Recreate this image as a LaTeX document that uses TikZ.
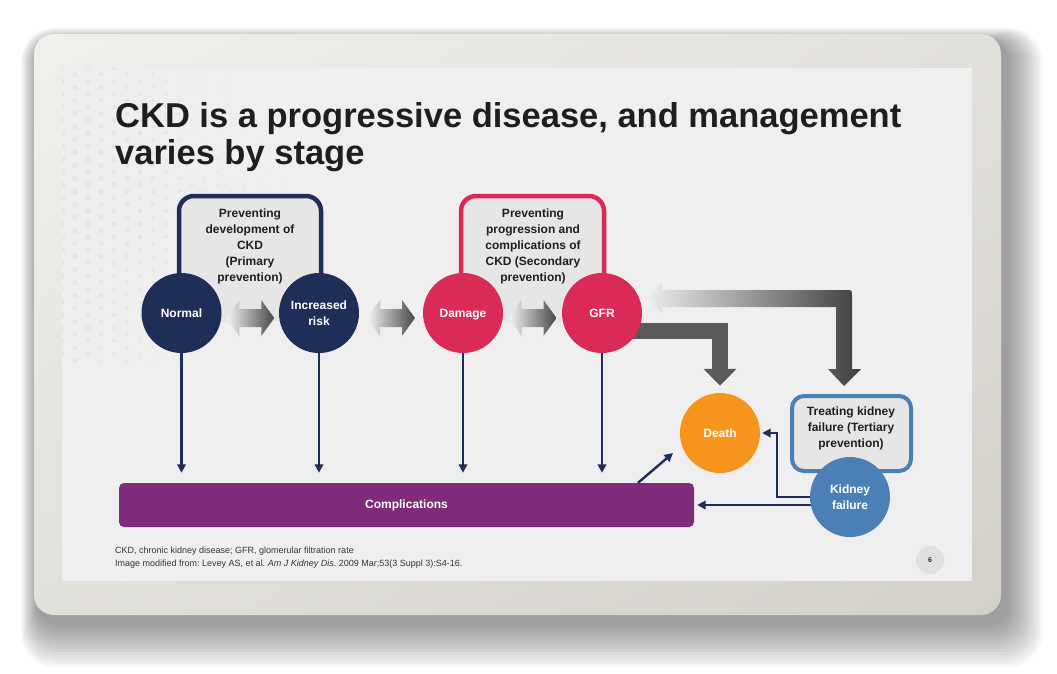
\documentclass[tikz,border=0pt]{standalone}
\usepackage{fontspec}
\setmainfont{Liberation Sans}
\usetikzlibrary{arrows.meta,calc,shadings}
\definecolor{navy}{HTML}{1F2D59}
\definecolor{crimson}{HTML}{D92B56}
\definecolor{orng}{HTML}{F7941D}
\definecolor{kblue}{HTML}{4A80B5}
\definecolor{purp}{HTML}{7F2B7A}
\definecolor{slidebg}{HTML}{EFEFEF}
\definecolor{boxfill}{HTML}{E6E6E6}
\definecolor{darkarr}{HTML}{5A5A5A}
\definecolor{ink}{HTML}{1E1E1E}
\definecolor{framelight}{HTML}{F2F0EC}
\definecolor{framedark}{HTML}{D3D0CA}
\definecolor{framemid}{HTML}{E2E0DB}
\definecolor{dotc}{HTML}{E6E6E6}
\pgfdeclarelayer{bg}
\pgfdeclarelayer{mid}
\pgfsetlayers{bg,mid,main}
\tikzset{
  stage/.style={circle, minimum size=80pt, inner sep=0pt, text=white,
    font=\fontsize{12}{16.5}\selectfont\bfseries, align=center},
  ptext/.style={font=\fontsize{12}{16}\selectfont\bfseries, align=center, text=ink, inner sep=0pt},
  navyarr/.style={draw=navy, line width=2.4pt, -{Triangle[width=8.5pt,length=8.5pt]}},
  bigarr/.style={draw=darkarr, line width=16pt, -{Triangle[width=32pt,length=17pt]}},
  dblshape/.style={left color=black!4, right color=black!72},
  titletext/.style={anchor=base west, inner sep=0pt, text=ink, font=\fontsize{34.5}{37}\selectfont\bfseries},
  foot/.style={anchor=base west, inner sep=0pt, text=ink!90, font=\fontsize{9}{12}\selectfont\frenchspacing}
}
\newcommand\dblarrow[2]{%
  \shade[dblshape, shift={($(#1)!0.5!(#2)+(0,5)$)}]
    (-24,0) -- (-11,-18) -- (-11,-9) -- (11,-9) -- (11,-18) -- (24,0)
    -- (11,18) -- (11,9) -- (-11,9) -- (-11,18) -- cycle;}
\begin{document}
\begin{tikzpicture}[x=1pt,y=-1pt]
\useasboundingbox (0,0) rectangle (1057,673);

% ---------- background frame ----------
\begin{pgfonlayer}{bg}
  \foreach \i in {0,...,14}{
    \fill[black,opacity=0.03,rounded corners={20+\i}]
      ({34+4-1.2*\i},{34+8-1.0*\i}) rectangle ({1001+8+2.4*\i},{615+10+3*\i});
  }
  \shade[rounded corners=20pt, upper left=framelight, lower right=framedark,
    upper right=framemid, lower left=framemid]
    (34,34) rectangle (1001,615);
  \fill[slidebg] (62,68) rectangle (972,581);
  \begin{scope}
    \clip (62,68) rectangle (972,581);
    \foreach \i in {0,...,22}{
      \foreach \j in {0,...,22}{
        \pgfmathsetmacro\px{62+\i*13}
        \pgfmathsetmacro\py{68+\j*13+mod(\i,2)*6.5}
        \pgfmathsetmacro\rr{3.6-0.0135*(\px-62)-0.007*abs(\py-190)}
        \ifdim\rr pt>0.5pt
          \fill[dotc] (\px,\py) circle[radius=\rr];
        \fi
      }
    }
  \end{scope}
\end{pgfonlayer}

% ---------- title ----------
\node[titletext] (title1) at (115,127) {CKD is a progressive disease, and management};
\node[titletext] (title2) at (115,164) {varies by stage};

% ---------- stage circles ----------
\node[stage, fill=navy] (normal) at (181.5,313) {Normal};
\node[stage, fill=navy] (risk) at (319,313) {Increased\\risk};
\node[stage, fill=crimson, text depth=0pt] (damage) at (463,313) {Damage};
\node[stage, fill=crimson] (gfr) at (602,313) {GFR};
\node[stage, fill=orng] (death) at (720,433) {Death};
\node[stage, fill=kblue] (kf) at (850,497) {Kidney\\failure};

% complications bar
\node[fill=purp, rounded corners=5pt, minimum width=575pt, minimum height=44pt,
  inner sep=0pt, text=white, font=\fontsize{12}{14}\selectfont\bfseries]
  (comp) at (406.5,505) {Complications};

\begin{pgfonlayer}{mid}
  % primary prevention box
  \fill[boxfill, rounded corners=15pt] (179,322) -- (179,196) -- (321,196) -- (321,322) -- cycle;
  \draw[navy, line width=4.5pt, rounded corners=15pt] (179,300) -- (179,196) -- (321,196) -- (321,300);
  % secondary prevention box
  \fill[boxfill, rounded corners=15pt] (461,322) -- (461,196) -- (604,196) -- (604,322) -- cycle;
  \draw[crimson, line width=4.5pt, rounded corners=15pt] (461,300) -- (461,196) -- (604,196) -- (604,300);
  % tertiary box
  \node[draw=kblue, line width=4pt, fill=boxfill, rounded corners=12pt,
    minimum width=119pt, minimum height=75pt] (tbox) at (851.5,433.5) {};
  % big gray arrow GFR -> Death
  \draw[bigarr] ([yshift=-18pt]gfr.center) -| ([yshift=7pt]death.north);
  % gradient elbow arrow (GFR <-> tertiary)
  \shade[left color=black!7, right color=black!76]
    (647,298) -- (662,283) -- (662,290) -- (846,290) .. controls (852,290) .. (852,296)
    -- (852,369) -- (861,369) -- (844,386) -- (828,369) -- (836,369) -- (836,307)
    -- (662,307) -- (662,313) -- cycle;
  % kidney failure connectors
  \draw[navyarr, shorten >=2pt] (kf.center) -| ([xshift=17pt]death.east) -- (death.east);
  \draw[navyarr, shorten >=3pt] ([yshift=-8pt]kf.center) -- ([yshift=-8pt]kf.center -| comp.east);
\end{pgfonlayer}

% box texts
\node[ptext] (ptxt) at (250,246) {Preventing\\development of\\CKD\\(Primary\\prevention)};
\node[ptext] (stxt) at (533,246) {Preventing\\progression and\\complications of\\CKD (Secondary\\prevention)};
\node[ptext] (ttxt) at (851,428) {Treating kidney\\failure (Tertiary\\prevention)};

% double arrows between stages
\dblarrow{normal}{risk}
\dblarrow{risk}{damage}
\dblarrow{damage}{gfr}

% vertical arrows to complications
\foreach \n in {normal,risk,damage,gfr}{
  \draw[navyarr] (\n.south) -- ([yshift=10pt]\n.south |- comp.north);
}
% complications -> death
\coordinate (cstart) at ([xshift=231.5pt]comp.north);
\coordinate (dtip) at (673,453);
\draw[navyarr] (cstart) -- (dtip);

% footnotes
\node[foot] (fn1) at (115,553) {CKD, chronic kidney disease; GFR, glomerular filtration rate};
\node[foot] (fn2) at (115,566) {Image modified from: Levey AS, et al. \textit{Am J Kidney Dis}. 2009 Mar;53(3 Suppl 3):S4-16.};

% page number
\node[circle, fill=black!12, minimum size=28pt, inner sep=0pt,
  font=\fontsize{7}{8}\selectfont\bfseries, text=black!80] (pg) at (930,560) {6};
\end{tikzpicture}
\end{document}
